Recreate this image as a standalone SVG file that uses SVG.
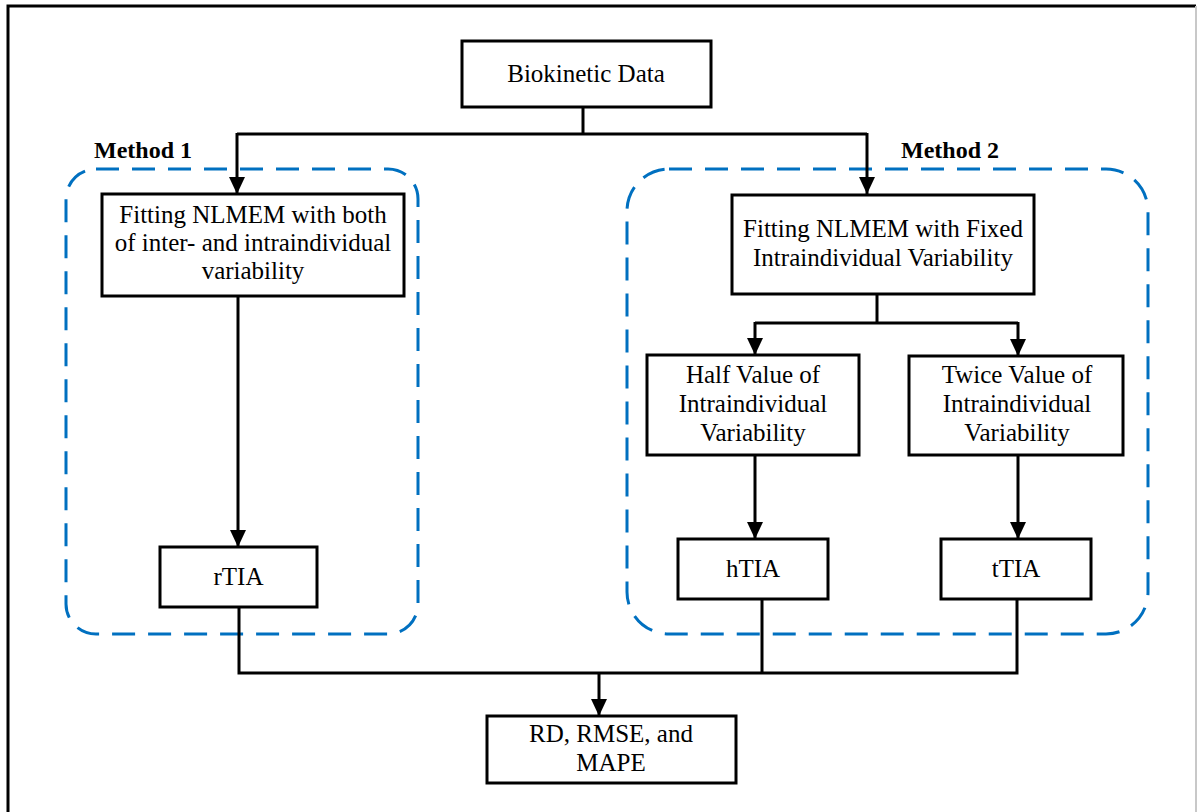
<svg xmlns="http://www.w3.org/2000/svg" width="1199" height="812" viewBox="0 0 1199 812">
<defs>
<style>
.box{fill:#fff;stroke:#000;stroke-width:3}
.grp{fill:none;stroke:#0070C0;stroke-width:3;stroke-dasharray:23 13}
.ln{fill:none;stroke:#000;stroke-width:3}
.t{font-family:"Liberation Serif","Times New Roman",serif;font-size:25px;fill:#000;text-anchor:middle}
.lbl{font-family:"Liberation Serif","Times New Roman",serif;font-size:24px;font-weight:bold;fill:#000}
</style>
<marker id="ah" markerUnits="userSpaceOnUse" markerWidth="17" markerHeight="17" refX="17" refY="8" orient="auto" viewBox="0 0 17 17">
<path d="M0,0 L17,8 L0,16 z" fill="#000"/>
</marker>
</defs>
<rect width="1199" height="812" fill="#fff"/>
<g id="frame">
<path d="M8,812 V6 H1196" fill="none" stroke="#000" stroke-width="3"/>
<line x1="1196" y1="6" x2="1196" y2="812" stroke="#c8c8c8" stroke-width="2"/>
</g>
<g id="method1">
<rect class="grp" x="66" y="169" width="352" height="465" rx="30" ry="30"/>
<text class="lbl" x="94" y="158">Method 1</text>
</g>
<g id="method2">
<rect class="grp" x="627" y="169" width="521" height="465" rx="42" ry="42"/>
<text class="lbl" x="901" y="158">Method 2</text>
</g>
<g id="connectors">
<path class="ln" d="M583,107 V134"/>
<path class="ln" d="M237,134 H867"/>
<path class="ln" d="M237,133 V194" marker-end="url(#ah)"/>
<path class="ln" d="M867,133 V194" marker-end="url(#ah)"/>
<path class="ln" d="M238,296 V547" marker-end="url(#ah)"/>
<path class="ln" d="M877,294 V323"/>
<path class="ln" d="M755,323 H1018"/>
<path class="ln" d="M755,322 V355" marker-end="url(#ah)"/>
<path class="ln" d="M1018,322 V356" marker-end="url(#ah)"/>
<path class="ln" d="M755,455 V539" marker-end="url(#ah)"/>
<path class="ln" d="M1018,455 V539" marker-end="url(#ah)"/>
<path class="ln" d="M239,607 V673 H1017 V599"/>
<path class="ln" d="M762,599 V673"/>
<path class="ln" d="M599,673 V716" marker-end="url(#ah)"/>
</g>
<g id="n-biokinetic">
<rect class="box" x="462" y="41" width="249" height="66"/>
<text class="t" x="586" y="82">Biokinetic Data</text>
</g>
<g id="n-fit-both">
<rect class="box" x="102" y="194" width="302" height="102"/>
<text class="t" x="253" y="223">Fitting NLMEM with both</text>
<text class="t" x="253" y="251">of inter- and intraindividual</text>
<text class="t" x="253" y="279">variability</text>
</g>
<g id="n-fit-fixed">
<rect class="box" x="732" y="195" width="302" height="99"/>
<text class="t" x="883" y="237">Fitting NLMEM with Fixed</text>
<text class="t" x="883" y="266">Intraindividual Variability</text>
</g>
<g id="n-half">
<rect class="box" x="647" y="355" width="212" height="100"/>
<text class="t" x="753" y="383">Half Value of</text>
<text class="t" x="753" y="412">Intraindividual</text>
<text class="t" x="753" y="441">Variability</text>
</g>
<g id="n-twice">
<rect class="box" x="909" y="356" width="214" height="99"/>
<text class="t" x="1017" y="383">Twice Value of</text>
<text class="t" x="1017" y="412">Intraindividual</text>
<text class="t" x="1017" y="441">Variability</text>
</g>
<g id="n-rtia">
<rect class="box" x="160" y="547" width="157" height="60"/>
<text class="t" x="238.5" y="585">rTIA</text>
</g>
<g id="n-htia">
<rect class="box" x="678" y="539" width="150" height="60"/>
<text class="t" x="753" y="577">hTIA</text>
</g>
<g id="n-ttia">
<rect class="box" x="941" y="539" width="150" height="60"/>
<text class="t" x="1016" y="577">tTIA</text>
</g>
<g id="n-metrics">
<rect class="box" x="487" y="716" width="249" height="67"/>
<text class="t" x="611" y="742">RD, RMSE, and</text>
<text class="t" x="611" y="771">MAPE</text>
</g>
</svg>
